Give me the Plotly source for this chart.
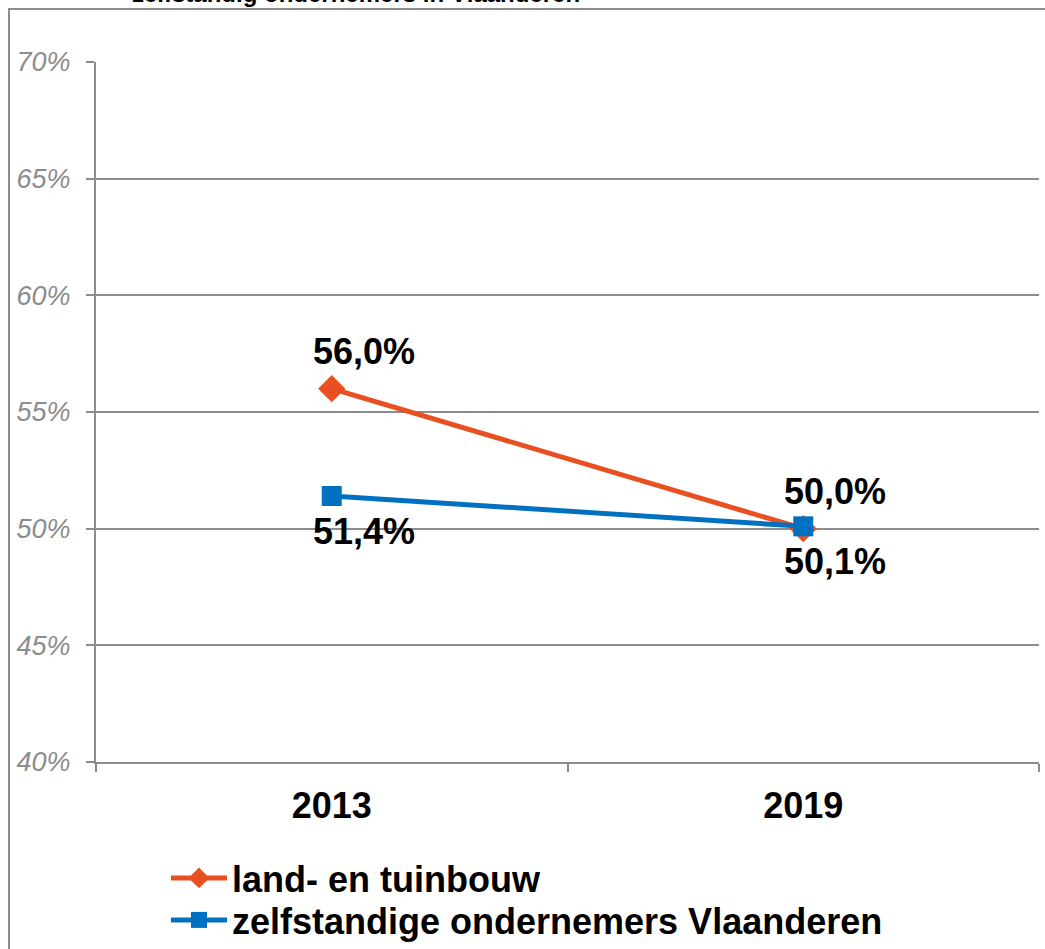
import plotly.graph_objects as go

years = ["2013", "2019"]
series_names = ["land- en tuinbouw", "zelfstandige ondernemers Vlaanderen"]
land_tuinbouw = [56.0, 50.0]
zelfstandigen = [51.4, 50.1]
y_ticks = [40, 45, 50, 55, 60, 65, 70]
y_tick_labels = ["40%", "45%", "50%", "55%", "60%", "65%", "70%"]
title_text = "zelfstandig ondernemers in Vlaanderen"

W, H = 1045, 949
L, R, T, B = 96, 6, 62, 187
PW, PH = W - L - R, H - T - B

def px_x(p):
    return (p - L) / PW

def px_y(p):
    return (H - B - p) / PH

def cx(p):
    return p / W

def cy(p):
    return 1 - p / H

FONT = "Liberation Sans, Arial, sans-serif"
ORANGE = "#E85022"
BLUE = "#0070C0"
GRAY = "#8C8C8C"

def fmt(v):
    return f"{v:.1f}".replace(".", ",") + "%"

fig = go.Figure()
fig.add_trace(go.Scatter(
    x=years, y=land_tuinbouw, name=series_names[0], mode="lines+markers",
    line=dict(color=ORANGE, width=5),
    marker=dict(symbol="diamond", size=21, color=ORANGE),
    legend="legend", cliponaxis=False,
))
fig.add_trace(go.Scatter(
    x=years, y=zelfstandigen, name=series_names[1], mode="lines+markers",
    line=dict(color=BLUE, width=5),
    marker=dict(symbol="square", size=20, color=BLUE),
    legend="legend2", cliponaxis=False,
))

label_font = dict(family=FONT, size=36, color="black", weight="bold")
annotations = []
for i, yv in enumerate(land_tuinbouw):
    annotations.append(dict(x=i, y=yv, xref="x", yref="y", text=fmt(yv),
                            showarrow=False, xshift=32, yshift=37, font=label_font))
for i, yv in enumerate(zelfstandigen):
    annotations.append(dict(x=i, y=yv, xref="x", yref="y", text=fmt(yv),
                            showarrow=False, xshift=32, yshift=-35, font=label_font))
annotations.append(dict(x=px_x(356), y=px_y(9), xref="paper", yref="paper",
                        text=title_text, showarrow=False, xanchor="center", yanchor="bottom",
                        font=dict(family=FONT, size=24, color="black", weight="bold")))

shapes = [dict(type="path", xref="paper", yref="paper",
               path=f"M {px_x(9)},{px_y(H)} L {px_x(9)},{px_y(9)} L {px_x(W)},{px_y(9)}",
               line=dict(color=GRAY, width=2))]

legend_font = dict(family=FONT, size=36, color="black", weight="bold")

fig.update_layout(
    width=W, height=H,
    margin=dict(l=L, r=R, t=T, b=B, pad=0, autoexpand=False),
    paper_bgcolor="white", plot_bgcolor="white",
    font=dict(family=FONT),
    showlegend=True,
    annotations=annotations,
    shapes=shapes,
    xaxis=dict(type="category", range=[-0.5, 1.5], tickson="boundaries",
               ticks="outside", ticklen=8, tickwidth=2, tickcolor=GRAY,
               showline=True, linecolor=GRAY, linewidth=2, showgrid=False,
               tickfont=dict(family=FONT, size=36, color="black", weight="bold"),
               ticklabelstandoff=11),
    yaxis=dict(range=[40, 70], tickmode="array", tickvals=y_ticks, ticktext=y_tick_labels,
               ticks="outside", ticklen=8, tickwidth=2, tickcolor=GRAY,
               showline=True, linecolor=GRAY, linewidth=2,
               showgrid=True, gridcolor=GRAY, gridwidth=2, zeroline=False,
               tickfont=dict(family=FONT, size=27, color=GRAY, style="italic"),
               ticklabelstandoff=10),
    legend=dict(xref="container", yref="container", x=cx(166), y=cy(878),
                xanchor="left", yanchor="middle",
                font=legend_font, itemwidth=56, bgcolor="rgba(0,0,0,0)", borderwidth=0),
    legend2=dict(xref="container", yref="container", x=cx(166), y=cy(920),
                 xanchor="left", yanchor="middle",
                 font=legend_font, itemwidth=56, bgcolor="rgba(0,0,0,0)", borderwidth=0),
)

fig.write_html("out.html", config={"displayModeBar": False},
               post_script="document.body.style.margin='0';document.body.style.overflow='hidden';")
